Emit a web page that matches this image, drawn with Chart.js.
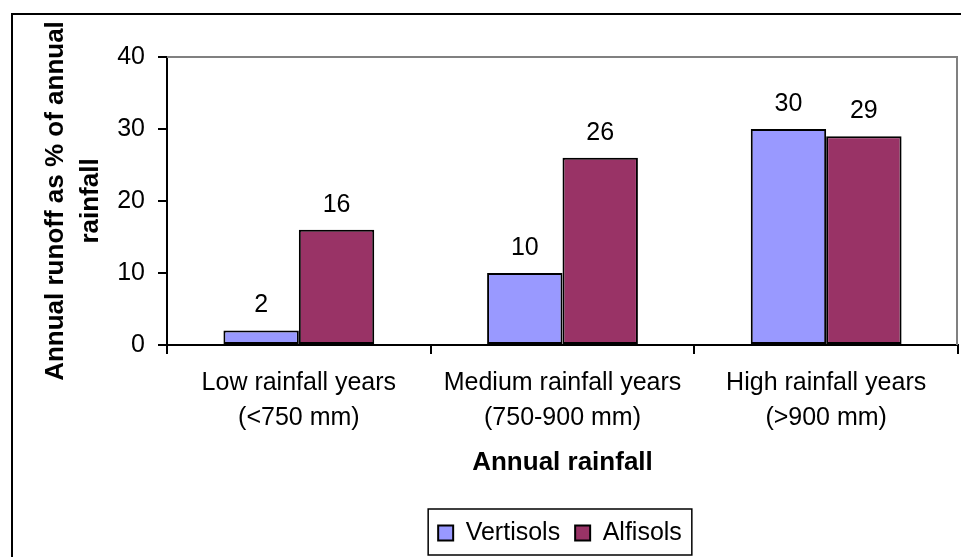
<!DOCTYPE html>
<html>
<head>
<meta charset="utf-8">
<script src="https://cdn.jsdelivr.net/npm/chart.js@4"></script>
<style>
html,body{margin:0;padding:0;background:#fff;}
#wrap{width:961px;height:557px;position:relative;}
</style>
</head>
<body>
<div id="wrap"><canvas id="c" width="961" height="557"></canvas></div>
<script>
const categories = [
  ['Low rainfall years', '(<750 mm)'],
  ['Medium rainfall years', '(750-900 mm)'],
  ['High rainfall years', '(>900 mm)']
];
const vertisols = [2, 10, 30];
const alfisols = [16, 26, 29];
const seriesNames = ['Vertisols', 'Alfisols'];
const yTickLabels = [0, 10, 20, 30, 40];
const xTitle = 'Annual rainfall';
const yTitle = ['Annual runoff as % of annual', 'rainfall'];

const FONT = "'Liberation Sans', Arial, sans-serif";

const decor = {
  id: 'decor',
  afterLayout(chart) {
    const L = chart.legend;
    if (L) { L.left += 81; L.right += 81; }
  },
  beforeDatasetsDraw(chart) {
    const {ctx, chartArea: a} = chart;
    ctx.save();
    ctx.strokeStyle = '#808080';
    ctx.lineWidth = 2;
    ctx.beginPath();
    ctx.moveTo(a.left, a.top);
    ctx.lineTo(a.right - 1, a.top);
    ctx.lineTo(a.right - 1, a.bottom);
    ctx.stroke();
    ctx.restore();
  },
  afterDatasetsDraw(chart) {
    const {ctx} = chart;
    ctx.save();
    ctx.font = '25px ' + FONT;
    ctx.fillStyle = '#000';
    ctx.textAlign = 'center';
    ctx.textBaseline = 'middle';
    chart.data.datasets.forEach((ds, i) => {
      const meta = chart.getDatasetMeta(i);
      meta.data.forEach((bar, j) => {
        ctx.fillText(String(ds.data[j]), bar.x, bar.y - 25);
      });
    });
    ctx.restore();
  },
  afterDraw(chart) {
    const {ctx} = chart;
    ctx.save();
    ctx.strokeStyle = '#000';
    ctx.lineWidth = 2;
    ctx.beginPath();
    ctx.moveTo(12, 557);
    ctx.lineTo(12, 14);
    ctx.lineTo(961, 14);
    ctx.stroke();
    const hb = chart.legend && chart.legend.legendHitBoxes;
    if (hb && hb.length) {
      const l = hb[0].left - 10;
      const last = hb[hb.length - 1];
      const r = last.left + last.width + 10;
      const t = hb[0].top - 11.5;
      const b = hb[0].top + hb[0].height + 9.5;
      ctx.lineWidth = 1.5;
      ctx.strokeRect(l, t, r - l, b - t);
    }
    ctx.restore();
  }
};

new Chart(document.getElementById('c'), {
  type: 'bar',
  data: {
    labels: categories,
    datasets: [
      {label: seriesNames[0], data: vertisols, backgroundColor: '#9999FF', borderColor: '#000', borderWidth: 2, borderSkipped: false},
      {label: seriesNames[1], data: alfisols, backgroundColor: '#993366', borderColor: '#000', borderWidth: 2, borderSkipped: false}
    ]
  },
  options: {
    responsive: false,
    animation: false,
    devicePixelRatio: 1,
    layout: {padding: {left: 0, right: 3, top: 57, bottom: 1.5}},
    datasets: {bar: {categoryPercentage: 0.572, barPercentage: 1}},
    plugins: {
      legend: {
        position: 'bottom',
        labels: {font: {family: FONT, size: 25}, color: '#000', boxWidth: 15, boxHeight: 15, padding: 15}
      },
      tooltip: {enabled: false}
    },
    scales: {
      x: {
        afterFit(s) { s.height = 160.5; },
        grid: {offset: true, drawOnChartArea: false, drawTicks: true, tickLength: 9, color: '#000', lineWidth: 2},
        border: {display: true, color: '#000', width: 2},
        ticks: {font: {family: FONT, size: 25, lineHeight: 1.4}, color: '#000', padding: 11.5, maxRotation: 0, autoSkip: false},
        title: {display: true, text: xTitle, color: '#000', font: {family: FONT, size: 26, weight: 'bold', lineHeight: 1.2}, padding: {top: 0, bottom: 27}}
      },
      y: {
        min: 0, max: 40,
        afterFit(s) { s.width = 167; },
        afterBuildTicks(s) { s.ticks = yTickLabels.map(v => ({value: v})); },
        grid: {drawOnChartArea: false, drawTicks: true, tickLength: 9, color: '#000', lineWidth: 2},
        border: {display: true, color: '#000', width: 2},
        ticks: {font: {family: FONT, size: 25}, color: '#000', padding: 13},
        title: {display: true, text: yTitle, color: '#000', font: {family: FONT, size: 26, weight: 'bold', lineHeight: 35/26}, padding: {top: 38, bottom: 0}}
      }
    }
  },
  plugins: [decor]
});
</script>
</body>
</html>
